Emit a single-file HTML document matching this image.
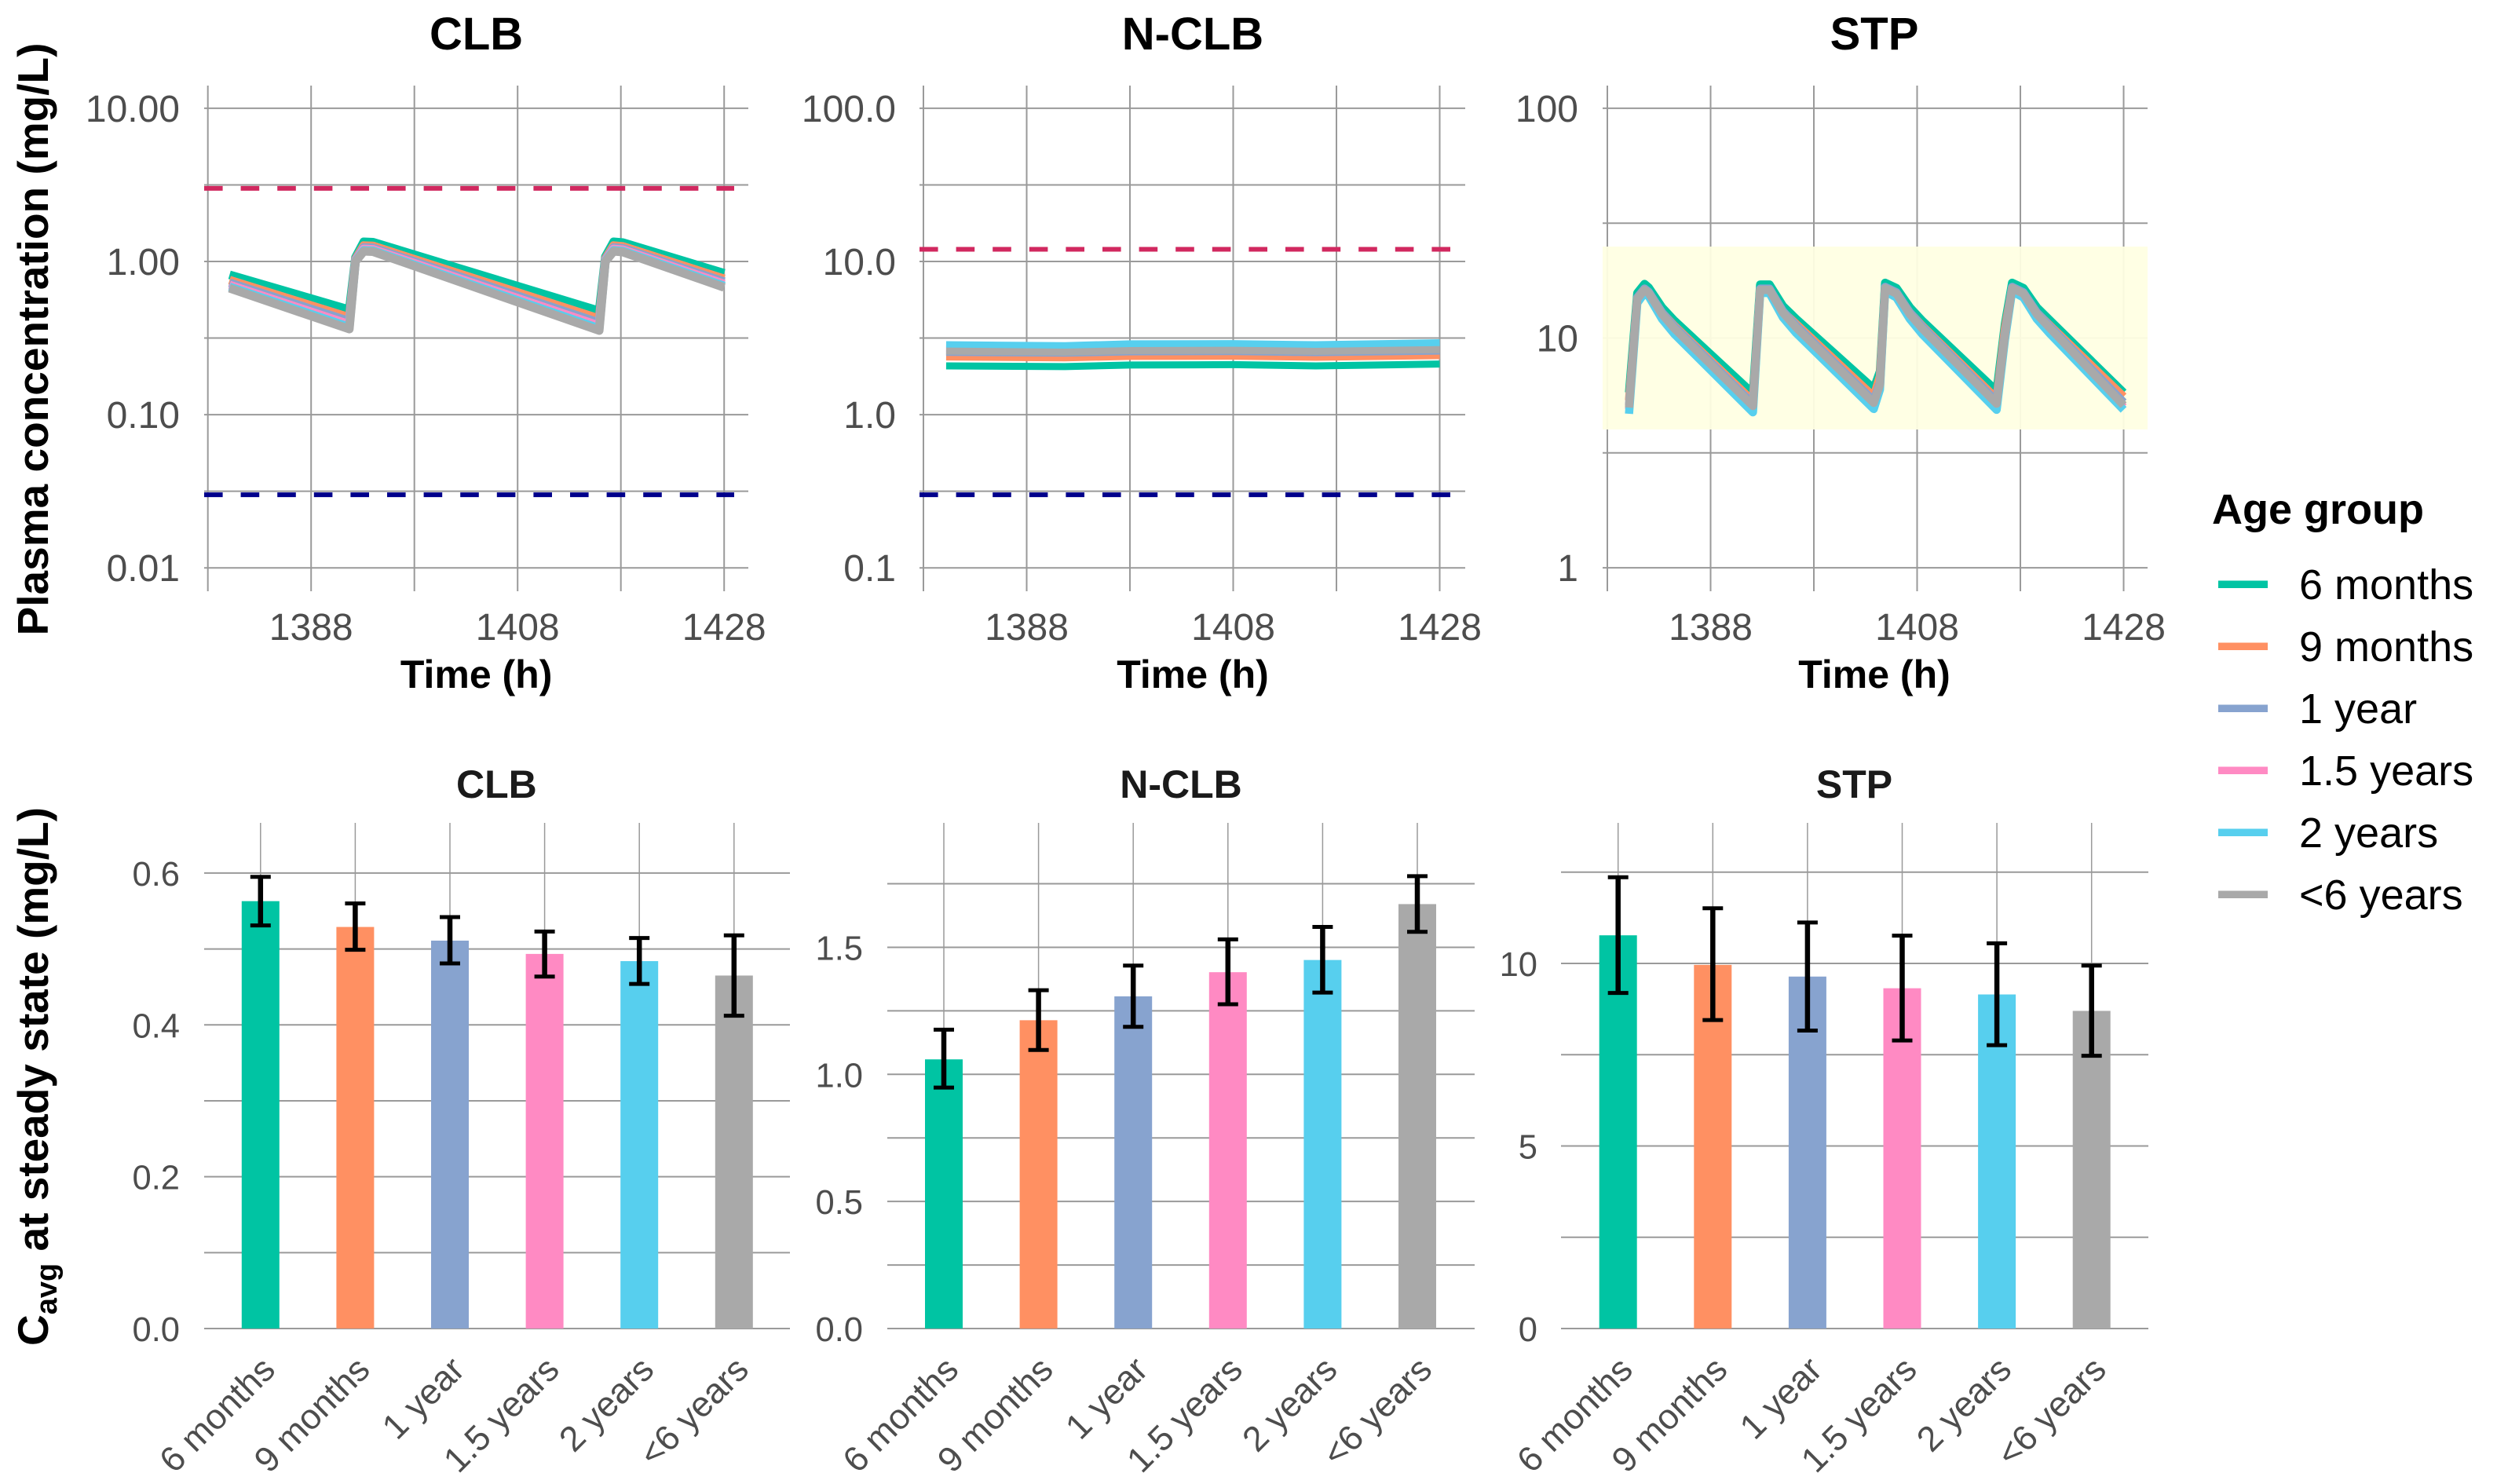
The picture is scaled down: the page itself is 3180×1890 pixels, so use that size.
<!DOCTYPE html>
<html lang="en">
<head>
<meta charset="utf-8">
<title>Plasma concentration and Cavg by age group</title>
<style>
  html, body { margin: 0; padding: 0; background: #ffffff; }
  body { width: 3180px; height: 1890px; overflow: hidden; }
  svg { display: block; font-family: "Liberation Sans", Arial, sans-serif; }
</style>
</head>
<body>
<svg id="figure" xmlns="http://www.w3.org/2000/svg" width="3180" height="1890" viewBox="0 0 3180 1890"></svg>
<script>
/* ---------- shared categories ---------- */
const ageGroups = ["6 months", "9 months", "1 year", "1.5 years", "2 years", "<6 years"];
const ageColors = ["#00C4A3", "#FF9062", "#87A3CF", "#FF8AC3", "#57CFEE", "#A9A9A9"];

/* ---------- concentration-time: CLB ---------- */
const clbTimes = [1380.1, 1391.7, 1392.3, 1393.1, 1394, 1415.9, 1416.5, 1417.3, 1418.2, 1428];
const clb6m   = [0.818, 0.484, 1.061, 1.343, 1.336, 0.475, 1.073, 1.343, 1.327, 0.838];
const clb9m   = [0.755, 0.431, 1.036, 1.269, 1.262, 0.423, 1.043, 1.269, 1.254, 0.770];
const clb1y   = [0.726, 0.407, 1.024, 1.234, 1.227, 0.398, 1.029, 1.234, 1.219, 0.738];
const clb15y  = [0.702, 0.388, 1.014, 1.206, 1.199, 0.380, 1.017, 1.206, 1.192, 0.713];
const clb2y   = [0.683, 0.373, 1.006, 1.182, 1.175, 0.365, 1.007, 1.182, 1.168, 0.692];
const clbU6y  = [0.669, 0.362, 1.000, 1.166, 1.159, 0.354, 1.000, 1.166, 1.152, 0.677];
const clbLimits = [3, 0.03];

/* ---------- concentration-time: N-CLB ---------- */
const nclbTimes = [1380.2, 1391.7, 1398, 1408, 1416, 1428];
const nclb6m   = [2.08, 2.06, 2.11, 2.12, 2.08, 2.14];
const nclb9m   = [2.38, 2.35, 2.40, 2.41, 2.37, 2.43];
const nclb1y   = [2.55, 2.52, 2.57, 2.58, 2.54, 2.60];
const nclb15y  = [2.70, 2.66, 2.72, 2.73, 2.69, 2.76];
const nclb2y   = [2.86, 2.82, 2.90, 2.91, 2.86, 2.95];
const nclbU6y  = [2.60, 2.56, 2.62, 2.63, 2.59, 2.66];
const nclbLimits = [12, 0.3];

/* ---------- concentration-time: STP ---------- */
const stpTimes = [1380.1, 1380.9, 1381.6, 1382.0, 1383.3, 1384.5, 1392.1, 1392.8, 1393.7, 1395.0, 1396.3, 1403.8, 1404.4, 1404.9, 1406.0, 1407.3, 1408.5, 1415.7, 1416.5, 1417.2, 1418.3, 1419.6, 1420.9, 1428];
const stp6m  = [5.79, 15.7, 17.2, 16.6, 13.6, 11.9, 5.74, 17.1, 17.1, 13.8, 12.1, 6.02, 7.16, 17.4, 16.5, 13.6, 11.9, 5.88, 11.5, 17.4, 16.5, 13.6, 11.9, 5.79];
const stp9m  = [5.35, 15.0, 16.4, 15.85, 12.9, 11.3, 5.31, 16.35, 16.35, 13.0, 11.5, 5.56, 6.83, 16.6, 15.7, 12.9, 11.3, 5.44, 10.95, 16.6, 15.7, 12.9, 11.3, 5.56];
const stp1y  = [5.10, 15.0, 16.4, 15.9, 12.9, 11.2, 5.16, 16.4, 16.4, 13.1, 11.3, 5.33, 6.40, 16.7, 15.8, 12.9, 11.2, 5.29, 10.4, 16.7, 15.8, 12.9, 11.2, 5.25];
const stp15y = [4.90, 14.6, 16.0, 15.5, 12.5, 10.8, 4.96, 16.0, 16.0, 12.7, 10.9, 5.10, 6.15, 16.3, 15.4, 12.5, 10.8, 5.05, 10.0, 16.3, 15.4, 12.5, 10.8, 5.00];
const stp2y  = [4.68, 14.2, 15.7, 15.2, 12.1, 10.4, 4.75, 15.7, 15.7, 12.3, 10.5, 4.91, 5.97, 16.0, 15.0, 12.1, 10.4, 4.87, 9.80, 16.0, 15.0, 12.1, 10.4, 4.87];
const stpU6y = [4.98, 14.8, 16.2, 15.7, 12.7, 11.0, 5.06, 16.2, 16.2, 12.9, 11.1, 5.22, 6.26, 16.5, 15.6, 12.7, 11.0, 5.18, 10.2, 16.5, 15.6, 12.7, 11.0, 5.10];
const stpRange = [4, 25];

/* ---------- axis ticks for the top row ---------- */
const timeMajorTicks = [1388, 1408, 1428];
const timeMinorTicks = [1378, 1398, 1418];
const clbYTicks = [10, 1, 0.1, 0.01];
const clbYLabels = ["10.00", "1.00", "0.10", "0.01"];
const clbYMinor = [3.162, 0.3162, 0.03162];
const nclbYTicks = [100, 10, 1, 0.1];
const nclbYLabels = ["100.0", "10.0", "1.0", "0.1"];
const nclbYMinor = [31.62, 3.162, 0.3162];
const stpYTicks = [100, 10, 1];
const stpYLabels = ["100", "10", "1"];
const stpYMinor = [31.62, 3.162];

/* ---------- steady-state bars ---------- */
const cavgClb = [0.563, 0.529, 0.511, 0.4935, 0.484, 0.465];
const cavgClbUpper = [0.595, 0.560, 0.542, 0.523, 0.5145, 0.518];
const cavgClbLower = [0.531, 0.499, 0.481, 0.4637, 0.454, 0.412];
const cavgClbTicks = [0, 0.2, 0.4, 0.6];
const cavgClbLabels = ["0.0", "0.2", "0.4", "0.6"];
const cavgClbMinor = [0.1, 0.3, 0.5];

const cavgNclb = [1.059, 1.213, 1.307, 1.402, 1.45, 1.67];
const cavgNclbUpper = [1.176, 1.331, 1.428, 1.531, 1.58, 1.78];
const cavgNclbLower = [0.948, 1.096, 1.187, 1.276, 1.322, 1.561];
const cavgNclbTicks = [0, 0.5, 1, 1.5];
const cavgNclbLabels = ["0.0", "0.5", "1.0", "1.5"];
const cavgNclbMinor = [0.25, 0.75, 1.25, 1.75];

const cavgStp = [10.77, 9.96, 9.64, 9.32, 9.15, 8.70];
const cavgStpUpper = [12.36, 11.51, 11.12, 10.76, 10.55, 9.94];
const cavgStpLower = [9.19, 8.45, 8.16, 7.89, 7.76, 7.47];
const cavgStpTicks = [0, 5, 10];
const cavgStpLabels = ["0", "5", "10"];
const cavgStpMinor = [2.5, 7.5, 12.5];

/* ---------- helpers ---------- */
const NS = "http://www.w3.org/2000/svg";
const figure = document.getElementById("figure");
const GRID = "#9a9a9a";
const TICK = "#4d4d4d";

function make(tag, name, attrs, parent) {
  const el = document.createElementNS(NS, tag);
  
  
  for (const k in attrs) el.setAttribute(k, attrs[k]);
  parent.appendChild(el);
  return el;
}
function label(str, name, attrs, parent) {
  const el = make("text", name, attrs, parent);
  el.textContent = str;
  return el;
}
function slug(s) {
  return s.replace("<", "under-").replace(/[ .]/g, "-");
}
function gridH(g, y, x1, x2, name) {
  make("line", name, {x1: x1, x2: x2, y1: y, y2: y, stroke: GRID, "stroke-width": 2}, g);
}
function gridV(g, x, y1, y2, name, width) {
  make("line", name, {x1: x, x2: x, y1: y1, y2: y2, stroke: GRID, "stroke-width": width}, g);
}

/* ---------- concentration-time panels ---------- */
function drawTimePanel(cfg) {
  const g = make("g", cfg.key + "-time-panel", {}, figure);
  const xScale = t => cfg.x1378 + (t - 1378) * 13.15;
  const yScale = v => cfg.yRef - (Math.log10(v) - Math.log10(cfg.refValue)) * cfg.decade;

  cfg.yMinor.forEach(v => gridH(g, yScale(v), cfg.gridLeft, cfg.gridRight, "y-minor-gridline"));
  cfg.yTicks.forEach(v => gridH(g, yScale(v), cfg.gridLeft, cfg.gridRight, "y-major-gridline"));
  timeMinorTicks.forEach(t => gridV(g, xScale(t), 109, 753, "x-minor-gridline", 2));
  timeMajorTicks.forEach(t => gridV(g, xScale(t), 109, 753, "x-major-gridline", 2));

  if (cfg.range) {
    make("rect", "therapeutic-range-band", {
      x: cfg.gridLeft, width: cfg.gridRight - cfg.gridLeft,
      y: yScale(cfg.range[1]), height: yScale(cfg.range[0]) - yScale(cfg.range[1]),
      fill: "#FFFFE2", opacity: 0.94
    }, g);
  }
  if (cfg.limits) {
    const limitColors = ["#D1285F", "#00008B"];
    const limitNames = ["upper-limit-line", "lower-limit-line"];
    cfg.limits.forEach((v, i) => {
      make("line", limitNames[i], {
        x1: cfg.dashStart, x2: cfg.dashEnd, y1: yScale(v), y2: yScale(v),
        stroke: limitColors[i], "stroke-width": 6, "stroke-dasharray": "23.6 23"
      }, g);
    });
  }
  cfg.series.forEach((vals, i) => {
    const d = vals.map((v, j) => (j ? "L" : "M") + xScale(cfg.times[j]).toFixed(2) + " " + yScale(v).toFixed(2)).join(" ");
    make("path", "line-" + slug(ageGroups[i]), {
      d: d, fill: "none", stroke: ageColors[i], "stroke-width": cfg.stroke,
      "stroke-linejoin": "round", "stroke-linecap": "butt"
    }, g);
  });
  cfg.yTicks.forEach((v, i) => {
    label(cfg.yLabels[i], "y-tick-label", {
      x: cfg.labelRight, y: yScale(v) + 17, "text-anchor": "end",
      "font-size": 48, fill: TICK
    }, g);
  });
  timeMajorTicks.forEach(t => {
    label(String(t), "x-tick-label", {
      x: xScale(t), y: 815, "text-anchor": "middle", "font-size": 48, fill: TICK
    }, g);
  });
  label(cfg.title, "panel-title", {
    x: cfg.titleX, y: 63, "text-anchor": "middle", "font-size": 58, "font-weight": 700, fill: "#000"
  }, g);
  label("Time (h)", "x-axis-title", {
    x: cfg.titleX, y: 876, "text-anchor": "middle", "font-size": 50, "font-weight": 700, fill: "#000"
  }, g);
}

drawTimePanel({
  key: "clb", title: "CLB", titleX: 606.6, x1378: 264.7, yRef: 333, refValue: 1, decade: 195.1,
  gridLeft: 260, gridRight: 953, labelRight: 229, stroke: 11,
  dashStart: 260, dashEnd: 935, limits: clbLimits,
  yTicks: clbYTicks, yLabels: clbYLabels, yMinor: clbYMinor, times: clbTimes,
  series: [clb6m, clb9m, clb1y, clb15y, clb2y, clbU6y]
});
drawTimePanel({
  key: "nclb", title: "N-CLB", titleX: 1519, x1378: 1176, yRef: 333, refValue: 10, decade: 195.1,
  gridLeft: 1171, gridRight: 1866, labelRight: 1141, stroke: 9,
  dashStart: 1171, dashEnd: 1847, limits: nclbLimits,
  yTicks: nclbYTicks, yLabels: nclbYLabels, yMinor: nclbYMinor, times: nclbTimes,
  series: [nclb6m, nclb9m, nclb1y, nclb15y, nclb2y, nclbU6y]
});
drawTimePanel({
  key: "stp", title: "STP", titleX: 2387, x1378: 2047, yRef: 430.5, refValue: 10, decade: 292.6,
  gridLeft: 2041, gridRight: 2735, labelRight: 2010, stroke: 10.5,
  range: stpRange,
  yTicks: stpYTicks, yLabels: stpYLabels, yMinor: stpYMinor, times: stpTimes,
  series: [stp6m, stp9m, stp1y, stp15y, stp2y, stpU6y]
});

/* ---------- bar panels ---------- */
function drawBarPanel(cfg) {
  const g = make("g", cfg.key + "-bar-panel", {}, figure);
  const xBand = i => cfg.firstX + i * 120.6;
  const yScale = v => 1692 - v * cfg.unit;

  cfg.yMinor.forEach(v => gridH(g, yScale(v), cfg.gridLeft, cfg.gridRight, "y-minor-gridline"));
  cfg.yTicks.forEach(v => gridH(g, yScale(v), cfg.gridLeft, cfg.gridRight, "y-major-gridline"));
  ageGroups.forEach((c, i) => gridV(g, xBand(i), 1048, 1692, "x-gridline", 1.5));

  cfg.values.forEach((v, i) => {
    make("rect", "bar-" + slug(ageGroups[i]), {
      x: xBand(i) - 24, width: 48, y: yScale(v), height: yScale(0) - yScale(v), fill: ageColors[i]
    }, g);
  });
  cfg.values.forEach((v, i) => {
    const e = make("g", "error-bar-" + slug(ageGroups[i]), {}, g);
    const x = xBand(i), yU = yScale(cfg.upper[i]), yL = yScale(cfg.lower[i]);
    make("line", "error-stem", {x1: x, x2: x, y1: yU, y2: yL, stroke: "#000", "stroke-width": 6.5}, e);
    make("line", "error-cap-upper", {x1: x - 13, x2: x + 13, y1: yU, y2: yU, stroke: "#000", "stroke-width": 5}, e);
    make("line", "error-cap-lower", {x1: x - 13, x2: x + 13, y1: yL, y2: yL, stroke: "#000", "stroke-width": 5}, e);
  });
  cfg.yTicks.forEach((v, i) => {
    label(cfg.yLabels[i], "y-tick-label", {
      x: cfg.labelRight, y: yScale(v) + 16, "text-anchor": "end", "font-size": 43.5, fill: TICK
    }, g);
  });
  ageGroups.forEach((c, i) => {
    const ax = xBand(i) + 21, ay = 1747;
    label(c, "x-tick-label", {
      x: ax, y: ay, "text-anchor": "end", "font-size": 45, fill: TICK,
      transform: "rotate(-45 " + ax + " " + ay + ")"
    }, g);
  });
  label(cfg.title, "panel-title", {
    x: cfg.titleX, y: 1016, "text-anchor": "middle", "font-size": 50, "font-weight": 700, fill: "#1a1a1a"
  }, g);
}

drawBarPanel({
  key: "clb", title: "CLB", titleX: 632.4, firstX: 331.8, unit: 966.8,
  gridLeft: 260, gridRight: 1006, labelRight: 229,
  values: cavgClb, upper: cavgClbUpper, lower: cavgClbLower,
  yTicks: cavgClbTicks, yLabels: cavgClbLabels, yMinor: cavgClbMinor
});
drawBarPanel({
  key: "nclb", title: "N-CLB", titleX: 1504, firstX: 1202, unit: 323.7,
  gridLeft: 1130, gridRight: 1878, labelRight: 1099,
  values: cavgNclb, upper: cavgNclbUpper, lower: cavgNclbLower,
  yTicks: cavgNclbTicks, yLabels: cavgNclbLabels, yMinor: cavgNclbMinor
});
drawBarPanel({
  key: "stp", title: "STP", titleX: 2361.5, firstX: 2060.7, unit: 46.5,
  gridLeft: 1988, gridRight: 2736, labelRight: 1958,
  values: cavgStp, upper: cavgStpUpper, lower: cavgStpLower,
  yTicks: cavgStpTicks, yLabels: cavgStpLabels, yMinor: cavgStpMinor
});

/* ---------- shared y-axis titles ---------- */
label("Plasma concentration (mg/L)", "top-y-axis-title", {
  x: 0, y: 0, "text-anchor": "middle", "font-size": 55, "font-weight": 700, fill: "#000",
  transform: "translate(61 432) rotate(-90)"
}, figure);

const lowerTitle = make("text", "bottom-y-axis-title", {
  x: 0, y: 0, "text-anchor": "middle", "font-size": 55, "font-weight": 700, fill: "#000",
  transform: "translate(61 1371) rotate(-90)"
}, figure);
const tsC = document.createElementNS(NS, "tspan");
tsC.textContent = "C";
lowerTitle.appendChild(tsC);
const tsSub = document.createElementNS(NS, "tspan");
tsSub.setAttribute("dy", "11");
tsSub.setAttribute("font-size", "38");
tsSub.textContent = "avg";
lowerTitle.appendChild(tsSub);
const tsRest = document.createElementNS(NS, "tspan");
tsRest.setAttribute("dy", "-11");
tsRest.textContent = " at steady state (mg/L)";
lowerTitle.appendChild(tsRest);

/* ---------- legend ---------- */
const legend = make("g", "age-group-legend", {}, figure);
label("Age group", "legend-title", {
  x: 2817, y: 667, "font-size": 54, "font-weight": 700, fill: "#000"
}, legend);
ageGroups.forEach((c, i) => {
  const row = make("g", "legend-entry-" + slug(c), {}, legend);
  const yMid = 744.3 + i * 79;
  make("line", "legend-key", {x1: 2825, x2: 2888, y1: yMid, y2: yMid, stroke: ageColors[i], "stroke-width": 9.5}, row);
  label(c, "legend-label", {x: 2928, y: yMid + 18.5, "font-size": 54, fill: "#000"}, row);
});
</script>
</body>
</html>
